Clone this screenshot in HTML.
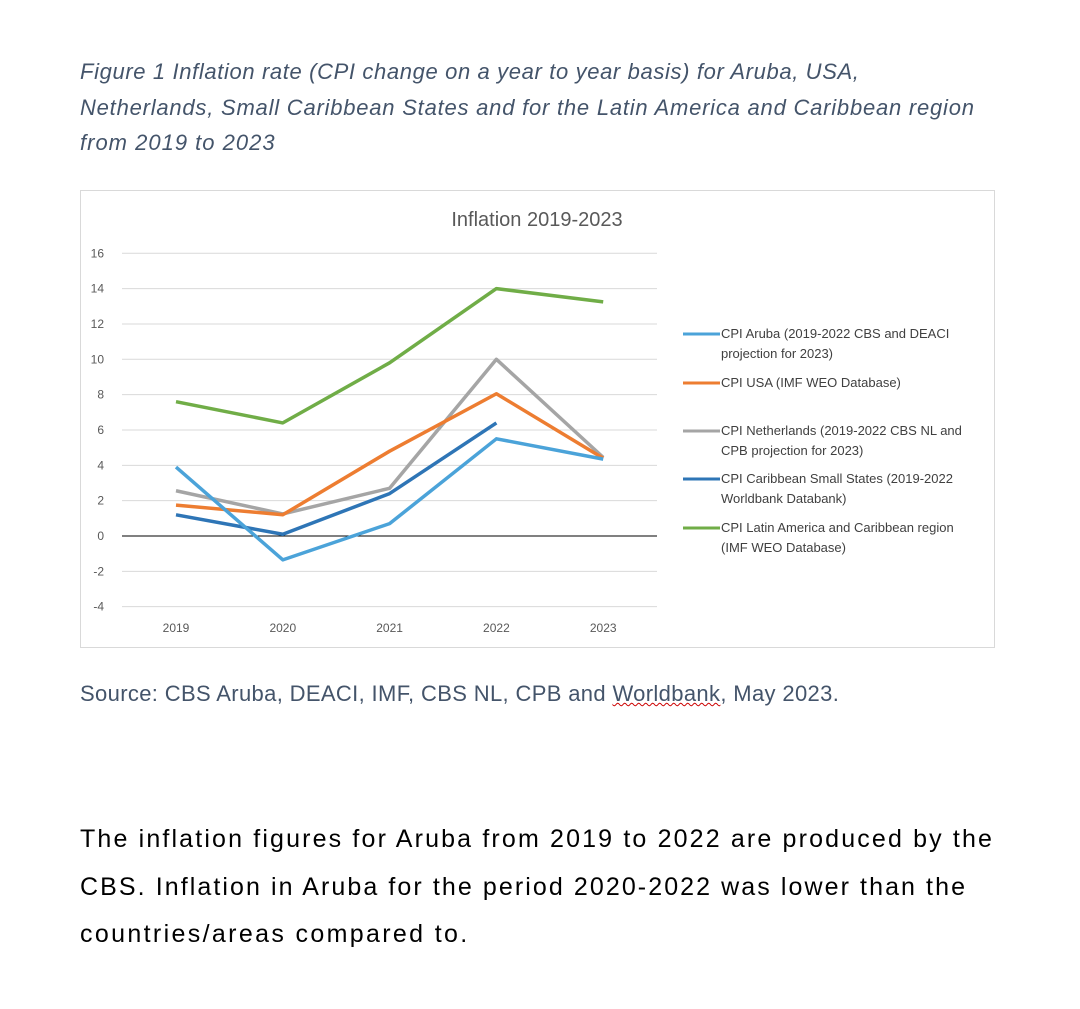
<!DOCTYPE html>
<html><head><meta charset="utf-8"><style>
body{margin:0;width:1080px;height:1009px;background:#fff;font-family:"Liberation Sans",sans-serif;overflow:hidden;position:relative}
.cap{position:absolute;left:80px;top:54px;font-size:22px;font-style:italic;color:#44546a;line-height:35.5px;white-space:nowrap}
.src{position:absolute;left:80px;top:681px;font-size:22px;letter-spacing:0.35px;color:#44546a;white-space:nowrap}
.body{position:absolute;left:80px;top:816px;font-size:25px;color:#000;line-height:47.5px;white-space:nowrap}
svg{position:absolute;left:0;top:0}
</style></head><body>
<div class="cap"><span style="letter-spacing:0.63px">Figure 1 Inflation rate (CPI change on a year to year basis) for Aruba, USA,</span><br><span style="letter-spacing:0.78px">Netherlands, Small Caribbean States and for the Latin America and Caribbean region</span><br><span style="letter-spacing:1px">from 2019 to 2023</span></div>
<svg width="1080" height="1009">
<rect x="80.5" y="190.5" width="914" height="457" fill="#fff" stroke="#d9d9d9"/>
<text x="537" y="226" font-size="20" fill="#595959" text-anchor="middle" font-family="Liberation Sans">Inflation 2019-2023</text>
<g id="grid"></g><g id="lines"></g><g id="legend"></g>
</svg>
<div class="src">Source: CBS Aruba, DEACI, IMF, CBS NL, CPB and <span style="text-decoration:underline wavy #c00;text-decoration-thickness:1px">Worldbank</span>, May 2023.</div>
<div class="body"><span style="letter-spacing:2.15px">The inflation figures for Aruba from 2019 to 2022 are produced by the</span><br><span style="letter-spacing:2.08px">CBS. Inflation in Aruba for the period 2020-2022 was lower than the</span><br><span style="letter-spacing:2.35px">countries/areas compared to.</span></div>
<script>
const years=["2019","2020","2021","2022","2023"];
const yTicks=[16,14,12,10,8,6,4,2,0,-2,-4];
const aruba=[3.9,-1.35,0.7,5.5,4.35];
const usa=[1.75,1.2,4.8,8.05,4.4];
const netherlands=[2.56,1.25,2.7,10.0,4.45];
const caribbean=[1.2,0.1,2.4,6.4,null];
const latam=[7.6,6.4,9.8,14.0,13.25];
const seriesNames=["CPI Aruba (2019-2022 CBS and DEACI|projection for 2023)","CPI USA (IMF WEO Database)","CPI Netherlands (2019-2022 CBS NL and|CPB projection for 2023)","CPI Caribbean Small States (2019-2022|Worldbank Databank)","CPI Latin America and Caribbean region|(IMF WEO Database)"];
const NS="http://www.w3.org/2000/svg";
const X=i=>176+i*106.8;
const Y=v=>536-v*17.67;
function mk(t,a,p){const e=document.createElementNS(NS,t);for(const k in a)e.setAttribute(k,a[k]);p.appendChild(e);return e;}
const g=document.getElementById('grid');
yTicks.forEach(v=>{
 const l=mk('line',{x1:122,x2:657,y1:Y(v),y2:Y(v),stroke:v===0?'#000':'#d9d9d9','stroke-width':1},g);
 
 
 const t=mk('text',{x:104,y:Y(v)+4,'font-size':12,fill:'#595959','text-anchor':'end','font-family':'Liberation Sans'},g);
 t.textContent=v;
 
 
});
years.forEach((y,i)=>{
 const t=mk('text',{x:X(i),y:632,'font-size':12,fill:'#595959','text-anchor':'middle','font-family':'Liberation Sans'},g);
 t.textContent=y;
 
 
});
const series=[[latam,'#70ad47'],[netherlands,'#a5a5a5'],[usa,'#ed7d31'],[caribbean,'#2e75b6'],[aruba,'#4ba3d9']];
const L=document.getElementById('lines');
series.forEach(([d,c])=>{
 let pts=[];d.forEach((v,i)=>{if(v!==null)pts.push(X(i)+','+Y(v));});
 const p=mk('polyline',{points:pts.join(' '),fill:'none',stroke:c,'stroke-width':3.5,'stroke-linejoin':'round'},L);
 
 
});
const legColors=['#4ba3d9','#ed7d31','#a5a5a5','#2e75b6','#70ad47'];
const legY=[338,387,435,483,532];
const LG=document.getElementById('legend');
seriesNames.forEach((n,i)=>{
 const l=mk('line',{x1:683,x2:720,y1:legY[i]-4,y2:legY[i]-4,stroke:legColors[i],'stroke-width':3},LG);
 
 
 n.split('|').forEach((s,j)=>{
  const t=mk('text',{x:721,y:legY[i]+j*20,'font-size':13,fill:'#404040','font-family':'Liberation Sans'},LG);
  t.textContent=s;
  
  
 });
});
</script>
</body></html>
